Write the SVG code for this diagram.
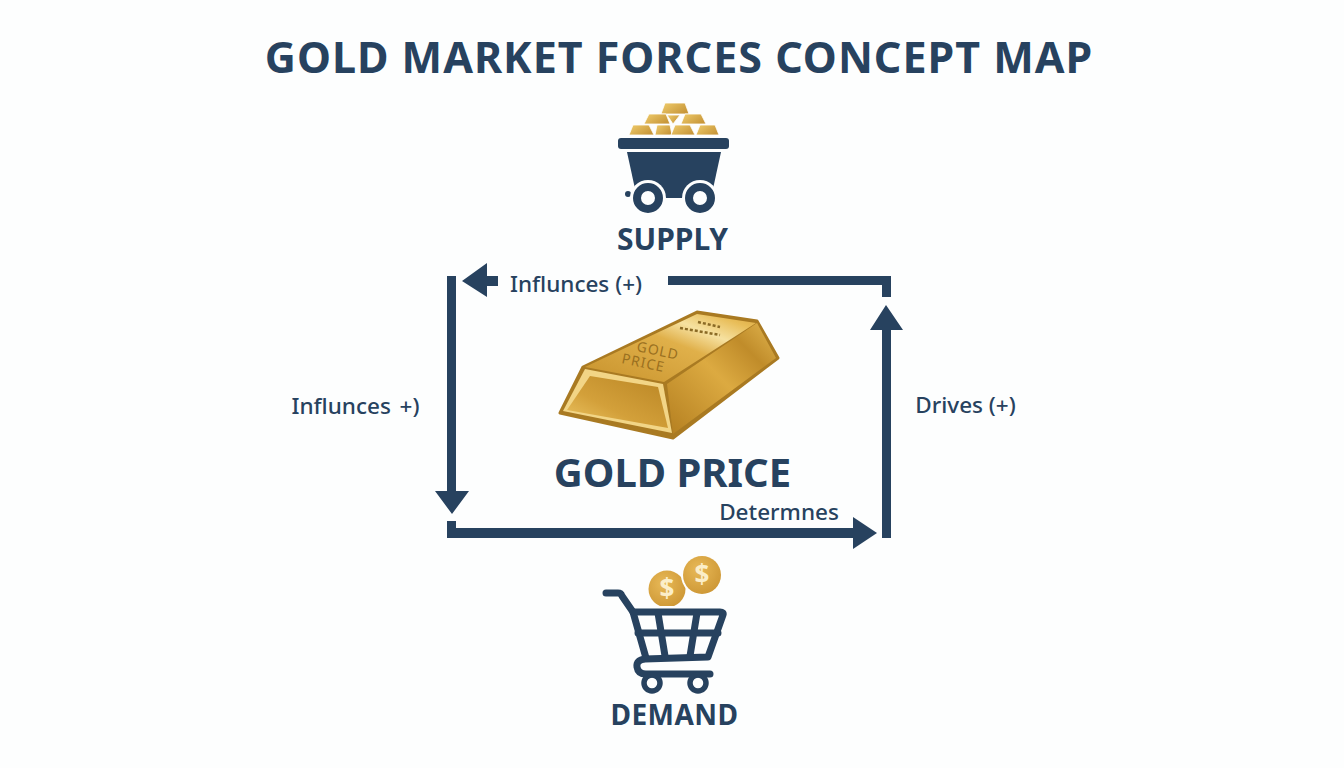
<svg xmlns="http://www.w3.org/2000/svg" width="1344" height="768" viewBox="0 0 1344 768">
<style>
text{font-family:"Noto Sans","Open Sans",sans-serif;fill:#27425f}
.h{font-weight:700;text-anchor:middle}
.l{font-size:22.500px;font-weight:500;text-anchor:middle}
.c{fill:#27425f;stroke:none}
.s{fill:none;stroke:#27425f;stroke-linecap:round;stroke-linejoin:round}
.n{stroke:#fff;stroke-width:0.800}
.d{font-weight:700;font-size:26px;text-anchor:middle;fill:#fbeec9}
</style>
<defs>
<linearGradient id="nug" x1="0" y1="0" x2="1" y2="0.6"><stop offset="0" stop-color="#f0cd6c"/><stop offset="1" stop-color="#c8973a"/></linearGradient>
<linearGradient id="front" x1="1" y1="0" x2="0" y2="1"><stop offset="0" stop-color="#b98524"/><stop offset="0.6" stop-color="#d3a03a"/><stop offset="1" stop-color="#eec765"/></linearGradient>
<linearGradient id="top" x1="0" y1="1" x2="1" y2="0"><stop offset="0" stop-color="#c8932d"/><stop offset="0.55" stop-color="#e0b04a"/><stop offset="0.72" stop-color="#f6e1a0"/><stop offset="0.88" stop-color="#e8bd58"/><stop offset="1" stop-color="#d9a53e"/></linearGradient>
<linearGradient id="right" x1="0" y1="1" x2="1" y2="0"><stop offset="0" stop-color="#b47f20"/><stop offset="0.5" stop-color="#dcaa41"/><stop offset="0.75" stop-color="#c08c2a"/><stop offset="1" stop-color="#e2b650"/></linearGradient>
<radialGradient id="coin" cx="0.4" cy="0.35" r="0.8"><stop offset="0" stop-color="#e8b957"/><stop offset="1" stop-color="#c99230"/></radialGradient>
</defs>
<rect width="1344" height="768" fill="#fdfefe"/>
<text id="title" class="h" x="679" y="73" font-size="43" letter-spacing="1">GOLD MARKET FORCES CONCEPT MAP</text>

<g id="connectors">
<polygon class="c" points="668,276 891,276 891,297 882,297 882,285 668,285"/>
<polygon class="c" points="498,276 487,276 487,263 462,281 487,297 487,286 498,286"/>
<polygon class="c" points="447,276 456,276 456,491 469,491 452,514 435,491 447,491"/>
<polygon class="c" points="447,521 456,521 456,528 853,528 853,517 877,533 853,549 853,538 447,538"/>
<polygon class="c" points="882,538 891,538 891,330 903,330 886,305 870,330 882,330"/>
<text class="l" x="576" y="292">Influnces (+)</text>
<text class="l" x="355.500" y="414" xml:space="preserve" word-spacing="-1.500">Influnces  +)</text>
<text class="l" x="965.500" y="413">Drives (+)</text>
<text class="l" x="779" y="520">Determnes</text>
</g>

<g id="supply">
<g fill="url(#nug)" class="n">
<polygon points="665,103 685,103 689,114 661,114"/>
<polygon points="649,114 666,114 670,124 644,124"/>
<polygon points="685,114 701,114 706,124 681,124"/>
<polygon points="667,115 680,115 673,124"/>
<polygon points="633,125 649,125 654,135 629,135"/>
<polygon points="657,125 670,125 672,135 655,135"/>
<polygon points="675,125 690,125 695,135 671,135"/>
<polygon points="700,125 715,125 719,135 696,135"/>
</g>
<rect class="c" x="618" y="138" width="111" height="11" rx="3"/>
<polygon class="c" points="627,152 721,152 711,198 637,198"/>
<circle cx="628" cy="194" r="3" class="c"/>
<circle cx="648" cy="198" r="18" fill="#fdfefe"/>
<circle cx="700" cy="198" r="18" fill="#fdfefe"/>
<circle cx="648" cy="198" r="11" fill="#fdfefe" stroke="#27425f" stroke-width="8"/>
<circle cx="700" cy="198" r="11" fill="#fdfefe" stroke="#27425f" stroke-width="8"/>
<text class="h" x="672.500" y="250" font-size="30">SUPPLY</text>
</g>

<g id="gold-price">
<polygon points="583,367 697,312 757,321 778,358 673,438 560,413" fill="#a97a22" stroke="#a97a22" stroke-width="3" stroke-linejoin="round"/>
<polygon points="585,367 697,314 756,323 664,382" fill="url(#top)"/>
<polygon points="667,384 757,323 776,358 673,434" fill="url(#right)"/>
<polygon points="585,369 663,384 672,433 563,411" fill="#f2d586"/>
<polygon points="590,376 658,387 668,428 567,410" fill="url(#front)"/>
<text x="0" y="0" transform="translate(636,351) rotate(12)" font-size="14" letter-spacing="1" style="fill:#9a7020">GOLD</text>
<text x="0" y="0" transform="translate(621,363) rotate(12)" font-size="14" letter-spacing="1" style="fill:#9a7020">PRICE</text>
<path d="M680,328l40,7M698,322l22,5" stroke="#8a6a25" stroke-width="2.500" stroke-dasharray="3 2" fill="none"/>
<text class="h" x="672.500" y="487" font-size="40">GOLD PRICE</text>
</g>

<g id="demand">
<circle cx="667" cy="589" r="18.500" fill="url(#coin)"/>
<circle cx="702" cy="575" r="21" fill="#fdfefe"/>
<circle cx="702" cy="575" r="19" fill="url(#coin)"/>
<text class="d" x="667" y="598">$</text>
<text class="d" x="702" y="584">$</text>
<rect x="640" y="606" width="60" height="8" fill="#fdfefe"/>
<g class="s" stroke-width="7">
<path d="M606,593H618Q621,593 622,596L633,612L646,658"/>
<path d="M633,612H720Q724,612 723,615L708,657L645,659Q636,660 637,667Q638,674 646,674H710"/>
<path d="M638,633H718M658,613L665,656M697,613L690,656"/>
</g>
<circle class="s" cx="652" cy="683" r="8" stroke-width="5.500"/>
<circle class="s" cx="698" cy="683" r="8" stroke-width="5.500"/>
<text class="h" x="674.500" y="725" font-size="28" letter-spacing="0.500">DEMAND</text>
</g>
</svg>
